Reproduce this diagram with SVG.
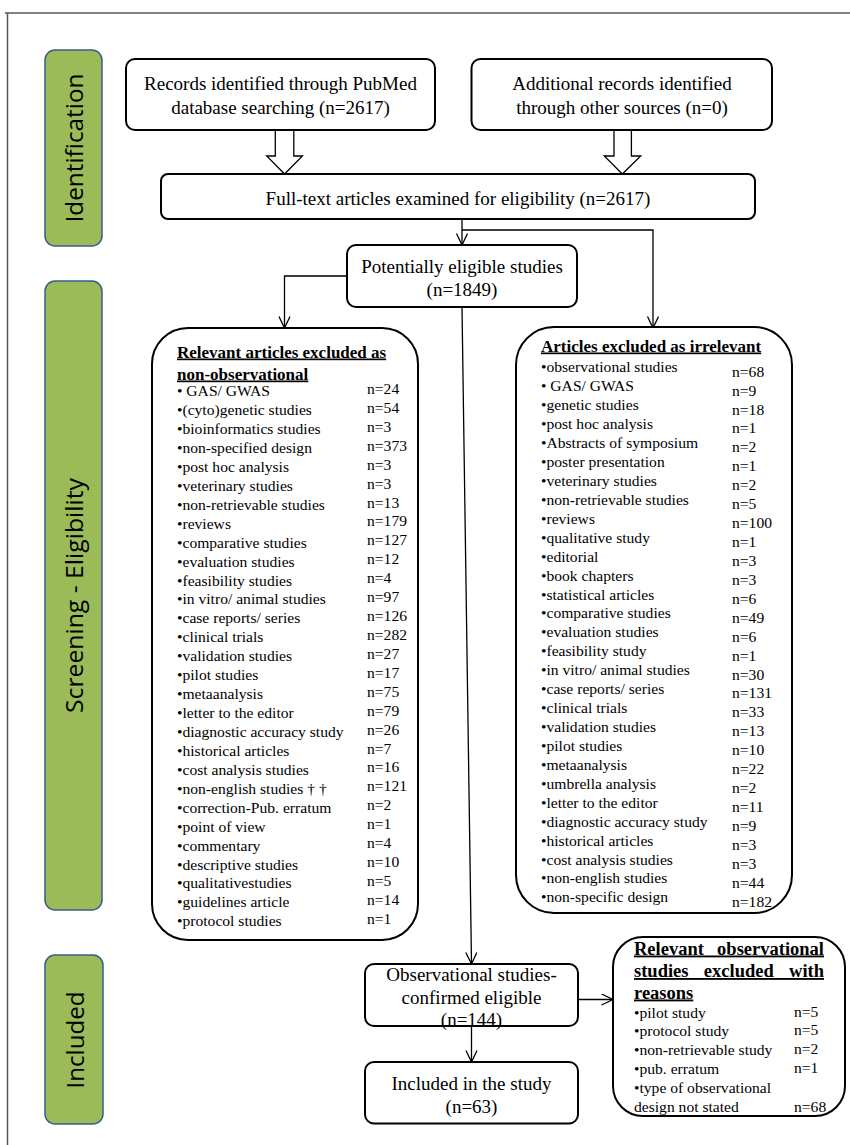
<svg xmlns="http://www.w3.org/2000/svg" width="850" height="1145" viewBox="0 0 850 1145">
<style>
.frame{fill:none;stroke:#555;stroke-width:1.5}
.phase{fill:#9BBB59;stroke:#385D8A;stroke-width:1.5}
.plabel{font-family:"Open Sans","Noto Sans",sans-serif;font-size:24px;fill:#000;text-anchor:middle}
.box{fill:#fff;stroke:#000;stroke-width:2}
.t19{font-family:"Liberation Serif","Times New Roman",serif;font-size:19px;fill:#000;text-anchor:middle}
.ttl{font-family:"Liberation Serif","Times New Roman",serif;font-size:17px;font-weight:bold;text-decoration:underline;fill:#000}
.ttl2{font-family:"Liberation Serif","Times New Roman",serif;font-size:18.5px;font-weight:bold;text-decoration:underline;fill:#000}
.li{font-family:"Liberation Serif","Times New Roman",serif;font-size:15.6px;fill:#000}
.conn{fill:none;stroke:#000;stroke-width:1.3}
.hollow{fill:#fff;stroke:#000;stroke-width:1.3}
</style>
<defs>
<marker id="ah" markerUnits="userSpaceOnUse" markerWidth="14" markerHeight="14" viewBox="0 0 14 14" refX="12" refY="6" orient="auto">
<path d="M0.5,0.5 L12,6 L0.5,11.5" fill="none" stroke="#000" stroke-width="1.3"/>
</marker>
</defs>

<path class="frame" d="M5,13 H850 M7.5,13 V1145"/>

<g id="phase-identification">
<rect class="phase" x="45" y="50" width="57" height="196" rx="10"/>
<text class="plabel" transform="translate(83,148) rotate(-90)" textLength="149" lengthAdjust="spacingAndGlyphs">Identification</text>
</g>
<g id="phase-screening">
<rect class="phase" x="45" y="281" width="57" height="629" rx="10"/>
<text class="plabel" transform="translate(83,595.5) rotate(-90)" textLength="235" lengthAdjust="spacingAndGlyphs">Screening - Eligibility</text>
</g>
<g id="phase-included">
<rect class="phase" x="45" y="955" width="58" height="169" rx="10"/>
<text class="plabel" transform="translate(84,1040) rotate(-90)" textLength="97" lengthAdjust="spacingAndGlyphs">Included</text>
</g>

<g id="connectors">
<path class="hollow" d="M275.3,130 V156 H266.7 L284.6,174 L302.4,156 H293.8 V130"/>
<path class="hollow" d="M614,130 V156 H604.3 L622.3,174 L640.7,156 H631.4 V130"/>
<path class="conn" d="M462,219 V245" marker-end="url(#ah)"/>
<path class="conn" d="M462,230 H653 V328" marker-end="url(#ah)"/>
<path class="conn" d="M347,276 H284.5 V328" marker-end="url(#ah)"/>
<path class="conn" d="M462,307 L471.5,964" marker-end="url(#ah)"/>
<path class="conn" d="M471.5,1026 V1062" marker-end="url(#ah)"/>
<path class="conn" d="M578,999.5 H613" marker-end="url(#ah)"/>
</g>

<g id="records-pubmed">
<rect class="box" x="126" y="59" width="309" height="71" rx="9"/>
<text class="t19" x="280.5" y="89.5">Records identified through PubMed</text>
<text class="t19" x="280.5" y="113.5">database searching (n=2617)</text>
</g>
<g id="records-other">
<rect class="box" x="471.5" y="59" width="300.5" height="71" rx="9"/>
<text class="t19" x="622" y="89.5">Additional records identified</text>
<text class="t19" x="622" y="113.5">through other sources (n=0)</text>
</g>
<g id="fulltext">
<rect class="box" x="161" y="174" width="594" height="45" rx="7"/>
<text class="t19" x="458" y="204.5">Full-text articles examined for eligibility (n=2617)</text>
</g>
<g id="potentially">
<rect class="box" x="347" y="245" width="230" height="62" rx="9"/>
<text class="t19" x="462" y="273">Potentially eligible studies</text>
<text class="t19" x="462" y="295.5">(n=1849)</text>
</g>

<g id="excluded-nonobservational">
<rect class="box" x="152" y="328" width="266" height="612" rx="36"/>
<text class="ttl" x="177" y="357.5">Relevant articles excluded as</text>
<text class="ttl" x="177" y="379.5">non-observational</text>
<g class="li">
<text x="177" y="396">• GAS/ GWAS</text>
<text x="177" y="415">•(cyto)genetic  studies</text>
<text x="177" y="434">•bioinformatics studies</text>
<text x="177" y="453">•non-specified design</text>
<text x="177" y="472">•post hoc analysis</text>
<text x="177" y="491">•veterinary studies</text>
<text x="177" y="510">•non-retrievable studies</text>
<text x="177" y="528.5">•reviews</text>
<text x="177" y="547.5">•comparative studies</text>
<text x="177" y="566.5">•evaluation studies</text>
<text x="177" y="585.5">•feasibility studies</text>
<text x="177" y="604">•in vitro/ animal studies</text>
<text x="177" y="623">•case reports/ series</text>
<text x="177" y="642">•clinical trials</text>
<text x="177" y="661">•validation studies</text>
<text x="177" y="680">•pilot studies</text>
<text x="177" y="699">•metaanalysis</text>
<text x="177" y="718">•letter to the editor</text>
<text x="177" y="737">•diagnostic accuracy study</text>
<text x="177" y="756">•historical articles</text>
<text x="177" y="774.5">•cost analysis studies</text>
<text x="177" y="793.5">•non-english studies † †</text>
<text x="177" y="812.5">•correction-Pub. erratum</text>
<text x="177" y="831.5">•point of view</text>
<text x="177" y="850.5">•commentary</text>
<text x="177" y="869.5">•descriptive studies</text>
<text x="177" y="888">•qualitativestudies</text>
<text x="177" y="907">•guidelines article</text>
<text x="177" y="926">•protocol studies</text>
<text x="367" y="393.5">n=24</text>
<text x="367" y="412.5">n=54</text>
<text x="367" y="431.5">n=3</text>
<text x="367" y="450.5">n=373</text>
<text x="367" y="469.5">n=3</text>
<text x="367" y="488.5">n=3</text>
<text x="367" y="507.5">n=13</text>
<text x="367" y="526">n=179</text>
<text x="367" y="545">n=127</text>
<text x="367" y="564">n=12</text>
<text x="367" y="583">n=4</text>
<text x="367" y="601.5">n=97</text>
<text x="367" y="620.5">n=126</text>
<text x="367" y="639.5">n=282</text>
<text x="367" y="658.5">n=27</text>
<text x="367" y="677.5">n=17</text>
<text x="367" y="696.5">n=75</text>
<text x="367" y="715.5">n=79</text>
<text x="367" y="734.5">n=26</text>
<text x="367" y="753.5">n=7</text>
<text x="367" y="772">n=16</text>
<text x="367" y="791">n=121</text>
<text x="367" y="810">n=2</text>
<text x="367" y="829">n=1</text>
<text x="367" y="848">n=4</text>
<text x="367" y="867">n=10</text>
<text x="367" y="885.5">n=5</text>
<text x="367" y="904.5">n=14</text>
<text x="367" y="923.5">n=1</text>
</g>
</g>

<g id="excluded-irrelevant">
<rect class="box" x="516" y="327" width="276" height="586" rx="38"/>
<text class="ttl" x="541" y="351.5">Articles excluded as irrelevant</text>
<g class="li">
<text x="541" y="372.3">•observational studies</text>
<text x="541" y="391.2">• GAS/ GWAS</text>
<text x="541" y="410.2">•genetic studies</text>
<text x="541" y="429.1">•post hoc analysis</text>
<text x="541" y="448">•Abstracts of symposium</text>
<text x="541" y="467">•poster presentation</text>
<text x="541" y="485.9">•veterinary studies</text>
<text x="541" y="504.8">•non-retrievable studies</text>
<text x="541" y="523.7">•reviews</text>
<text x="541" y="542.7">•qualitative study</text>
<text x="541" y="561.6">•editorial</text>
<text x="541" y="580.5">•book chapters</text>
<text x="541" y="599.5">•statistical articles</text>
<text x="541" y="618.4">•comparative studies</text>
<text x="541" y="637.3">•evaluation studies</text>
<text x="541" y="656.3">•feasibility study</text>
<text x="541" y="675.2">•in vitro/ animal studies</text>
<text x="541" y="694.1">•case reports/ series</text>
<text x="541" y="713.1">•clinical trials</text>
<text x="541" y="732">•validation studies</text>
<text x="541" y="750.9">•pilot studies</text>
<text x="541" y="769.8">•metaanalysis</text>
<text x="541" y="788.8">•umbrella analysis</text>
<text x="541" y="807.7">•letter to the editor</text>
<text x="541" y="826.6">•diagnostic accuracy study</text>
<text x="541" y="845.6">•historical articles</text>
<text x="541" y="864.5">•cost analysis studies</text>
<text x="541" y="883.4">•non-english studies</text>
<text x="541" y="902.3">•non-specific design</text>
<text x="732" y="376.6">n=68</text>
<text x="732" y="395.5">n=9</text>
<text x="732" y="414.5">n=18</text>
<text x="732" y="433.4">n=1</text>
<text x="732" y="452.3">n=2</text>
<text x="732" y="471.3">n=1</text>
<text x="732" y="490.2">n=2</text>
<text x="732" y="509.1">n=5</text>
<text x="732" y="528">n=100</text>
<text x="732" y="547">n=1</text>
<text x="732" y="565.9">n=3</text>
<text x="732" y="584.8">n=3</text>
<text x="732" y="603.8">n=6</text>
<text x="732" y="622.7">n=49</text>
<text x="732" y="641.6">n=6</text>
<text x="732" y="660.6">n=1</text>
<text x="732" y="679.5">n=30</text>
<text x="732" y="698.4">n=131</text>
<text x="732" y="717.4">n=33</text>
<text x="732" y="736.3">n=13</text>
<text x="732" y="755.2">n=10</text>
<text x="732" y="774.1">n=22</text>
<text x="732" y="793.1">n=2</text>
<text x="732" y="812">n=11</text>
<text x="732" y="830.9">n=9</text>
<text x="732" y="849.9">n=3</text>
<text x="732" y="868.8">n=3</text>
<text x="732" y="887.7">n=44</text>
<text x="732" y="906.6">n=182</text>
</g>
</g>

<g id="observational-eligible">
<rect class="box" x="365" y="964" width="213" height="62" rx="9"/>
<text class="t19" x="471.5" y="981">Observational studies-</text>
<text class="t19" x="471.5" y="1003.5">confirmed eligible</text>
<text class="t19" x="471.5" y="1026">(n=144)</text>
</g>
<g id="included-study">
<rect class="box" x="365" y="1062" width="213" height="61.5" rx="9"/>
<text class="t19" x="471.5" y="1089.5">Included in the study</text>
<text class="t19" x="471.5" y="1112.5">(n=63)</text>
</g>

<g id="excluded-observational">
<rect class="box" x="613" y="937" width="232" height="179" rx="30"/>
<text class="ttl2" x="634" y="954.5" word-spacing="8.6">Relevant observational</text>
<text class="ttl2" x="634" y="977" word-spacing="10.7">studies excluded with</text>
<text class="ttl2" x="634" y="998.5">reasons</text>
<g class="li">
<text x="634" y="1017.5">•pilot study</text>
<text x="634" y="1036.4">•protocol study</text>
<text x="634" y="1055.3">•non-retrievable study</text>
<text x="634" y="1074.2">•pub. erratum</text>
<text x="634" y="1093.1">•type of observational</text>
<text x="634" y="1112">design not stated</text>
<text x="794" y="1016.5">n=5</text>
<text x="794" y="1035.4">n=5</text>
<text x="794" y="1054.3">n=2</text>
<text x="794" y="1073.2">n=1</text>
<text x="794" y="1112">n=68</text>
</g>
</g>
</svg>
